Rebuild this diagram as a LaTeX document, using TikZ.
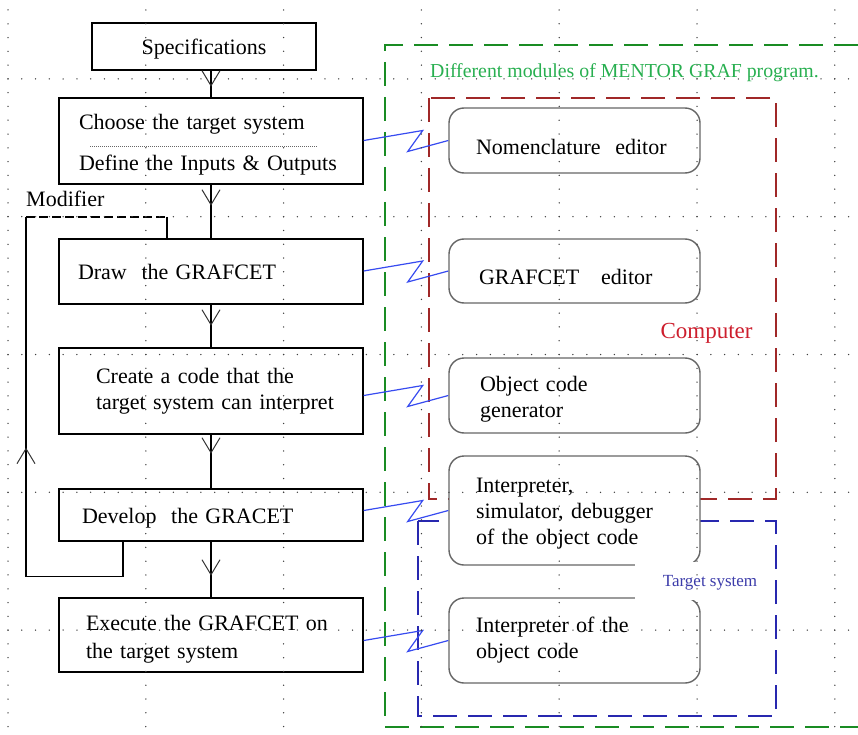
\documentclass[tikz,border=0pt]{standalone}
\usepackage{fontspec}
\setmainfont{Liberation Serif}
\usetikzlibrary{arrows.meta,decorations.markings}
\definecolor{frgreen}{RGB}{25,140,35}
\definecolor{frred}{RGB}{160,40,40}
\definecolor{frblue}{RGB}{40,40,175}
\definecolor{zigblue}{RGB}{55,75,240}
\definecolor{txgreen}{RGB}{40,175,80}
\definecolor{txred}{RGB}{205,30,45}
\definecolor{txblue}{RGB}{60,60,170}
\newcommand\bfs{\fontsize{22}{26}\selectfont}
\newcommand\lift[1]{\rule{0pt}{#1}}

\tikzset{
  stepbox/.style={draw, line width=1.4pt, minimum width=304pt, inner xsep=0pt, inner ysep=0pt, align=left, font=\bfs},
  modbox/.style={draw=black!60, fill=white, line width=1.4pt, rounded corners=15pt, minimum width=251pt, text width=197pt, inner xsep=0pt, inner ysep=0pt, align=left, font=\bfs},
  flow/.style={line width=1.3pt},
  vtip/.style={postaction={decorate}, decoration={markings, mark=at position #1 with {\arrow[line width=1pt,black!80]{Straight Barb[length=15pt,width=18pt]}}}},
  zig/.style={zigblue, line width=1.2pt},
  frame/.style={line width=1.5pt, dash pattern=on 24pt off 11pt},
  dots/.style={black!75, line width=1.5pt, line cap=round, dash pattern=on 0pt off 13.78pt},
}

\begin{document}
\begin{tikzpicture}[x=1pt,y=-1pt]
  \useasboundingbox (0,0) rectangle (858,735);

  % frames of the program modules
  \draw[frame, frgreen] (858,45) -- (385,45) -- (385,727) -- (858,727);
  \draw[frame, frred] (429,98) rectangle (776,499);
  \draw[frame, frblue] (418,521) rectangle (776,716);
  \node[txgreen, font=\fontsize{19.8}{22}\selectfont, anchor=west, inner sep=0pt] (modules) at (430,73) {Different modules of MENTOR GRAF program.};
  \node[txred, font=\fontsize{23}{26}\selectfont, inner sep=0pt] (comp) at (706.5,333) {Computer};

  \node[modbox, minimum height=65pt] (nom) at (574.5,140.5) {\lift{29pt}Nomenclature\ \ editor};
  \node[modbox, minimum height=64pt] (gred) at (574.5,271) {\lift{27pt}\hspace*{3pt}GRAFCET\ \ \ editor};
  \node[modbox, minimum height=75pt] (ocg) at (574.5,395.5) {\lift{23pt}\hspace*{4pt}Object code\\\hspace*{4pt}generator};
  \node[modbox, minimum height=109pt] (isd) at (574.5,510.5) {\lift{21pt}Interpreter,\\simulator, debugger\\of the object code};
  \node[modbox, minimum height=85pt] (ioc) at (574.5,640.5) {Interpreter of the\\object code};

  \fill[white] (635,562) rectangle (765,600);
  \node[txblue, font=\fontsize{17}{20}\selectfont, inner sep=0pt] (tsys) at (710,583) {Target system};

  % steps of the method
  \node[stepbox, minimum width=224pt, minimum height=47pt, align=center] (spec) at (204,46.5) {\lift{21pt}Specifications};
  \node[stepbox, minimum height=86pt, text width=264pt] (choose) at (211,141) {\lift{23pt}Choose the target system\\[15pt]Define the Inputs \& Outputs};
  \draw[black!60, line width=0.8pt, dash pattern=on 1pt off 1pt] ([xshift=32pt,yshift=-5pt]choose.west) -- ([xshift=-46pt,yshift=-5pt]choose.east);
  \node[stepbox, minimum height=65pt, text width=266pt] (drawg) at (211,271.5) {Draw\ \ the GRAFCET};
  \node[stepbox, minimum height=86pt, text width=230pt] (create) at (211,391) {\mbox{Create a code that the}\\\mbox{target system can interpret}};
  \node[stepbox, minimum height=52pt, text width=258pt] (develop) at (211,515) {\lift{21pt}Develop\ \ the GRACET};
  \node[stepbox, minimum height=74pt, text width=250pt, font=\fontsize{22}{28}\selectfont] (execute) at (211,635) {\lift{23pt}Execute the GRAFCET on\\the target system};

  \draw[flow, vtip=16pt] (choose.north |- spec.south) -- (choose.north);
  \draw[flow, vtip=21pt] (choose.south) -- (drawg.north);
  \draw[flow, vtip=21pt] (drawg.south) -- (create.north);
  \draw[flow, vtip=19pt] (create.south) -- (develop.north);
  \draw[flow, vtip=34pt] (develop.south) -- (execute.north);

  % modifier loop
  \node[font=\bfs, anchor=west, inner sep=0pt] (modlbl) at (26,199) {Modifier};
  \coordinate (fbtop) at (26,217);
  \coordinate (fbin) at ([xshift=-44pt]drawg.north);
  \draw[flow, vtip=261pt] ([xshift=-88pt]develop.south) |- ++(-97,35) -- (fbtop);
  \draw[flow, dash pattern=on 9pt off 4pt] (fbtop) -- (fbtop -| fbin);
  \draw[flow] (fbtop -| fbin) -- (fbin);

  % links to the modules
  \draw[zig] (choose.east |- nom.west) -- ++(59,-10) -- ++(-15,21) -- (nom.west);
  \draw[zig] (drawg.east |- gred.west) -- ++(59,-10) -- ++(-15,21) -- (gred.west);
  \draw[zig] (create.east |- ocg.west) -- ++(59,-10) -- ++(-15,21) -- (ocg.west);
  \draw[zig] (develop.east |- isd.west) -- ++(59,-10) -- ++(-15,21) -- (isd.west);
  \draw[zig] (execute.east |- ioc.west) -- ++(59,-10) -- ++(-15,21) -- (ioc.west);

  % page grid
  \foreach \gx in {8,145.8,283.6,421.4,559.2,697,834.8}
    \draw[dots] (\gx,10) -- (\gx,735);
  \foreach \gy in {78.9,216.7,354.5,492.3,630.1}
    \draw[dots] (8,\gy) -- (858,\gy);
\end{tikzpicture}
\end{document}
